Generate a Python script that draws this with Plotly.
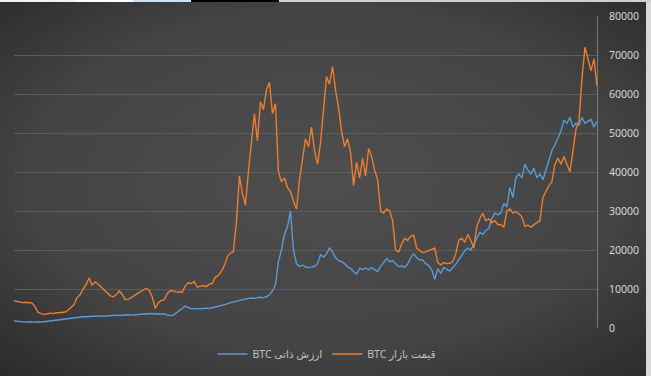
import base64
import pandas as pd
import plotly.graph_objects as go

# BTC market price (thousand USD)
market_price = [
    7.0, 6.8, 6.6, 6.5, 6.6, 6.5, 6.4, 5.5, 4.0, 3.7, 3.5, 3.6, 3.8, 3.7, 3.9, 3.9, 4.0, 4.1, 4.6, 5.4,
    6.0, 7.8, 8.5, 10.0, 11.2, 12.8, 11.0, 11.8, 11.3, 10.5, 9.8, 9.2, 8.3, 8.0, 8.5, 9.5, 8.6, 7.3, 7.4, 7.8,
    8.2, 8.8, 9.3, 9.8, 10.2, 9.6, 8.0, 5.0, 6.5, 7.0, 7.3, 8.8, 9.6, 9.5, 9.2, 9.3, 9.2, 10.8, 11.6, 11.4,
    11.9, 10.5, 10.8, 10.9, 10.6, 11.2, 11.5, 13.0, 13.5, 14.5, 16.0, 18.3, 19.2, 19.6, 27.0, 39.0, 34.5, 31.5, 40.0, 48.0,
    55.0, 48.0, 58.0, 56.0, 61.0, 63.0, 55.0, 57.5, 40.0, 37.5, 38.5, 36.0, 35.0, 32.5, 30.5, 38.0, 43.5, 48.5, 46.5, 51.5,
    45.5, 42.0, 47.5, 57.0, 64.5, 62.5, 67.0, 61.0, 56.5, 50.5, 46.5, 48.5, 45.0, 36.5, 42.5, 38.5, 43.5, 39.0, 46.0, 44.0,
    40.5, 38.0, 30.0, 29.5, 30.5, 30.0, 27.5, 20.0, 19.5, 21.5, 23.0, 22.5, 23.5, 23.8, 20.5, 19.8, 19.3, 19.5, 19.8, 20.0,
    20.5, 16.8, 16.2, 16.8, 16.5, 16.6, 17.0, 19.0, 22.5, 23.0, 22.0, 24.0, 22.5, 20.5, 26.0, 28.0, 29.5, 27.5, 28.0, 27.0,
    27.5, 26.5, 26.5, 25.8, 30.0, 30.5, 29.5, 29.8, 29.3, 28.5, 26.0, 26.4, 25.8, 26.5, 27.0, 27.5, 33.5, 35.0, 36.5, 37.5,
    42.0, 43.5, 42.0, 44.0, 42.0, 40.0, 45.5, 51.0, 53.0, 64.0, 72.0, 69.0, 66.0, 69.0, 62.0,
]

# BTC intrinsic value (thousand USD)
intrinsic_value = [
    1.8, 1.7, 1.7, 1.6, 1.5, 1.6, 1.5, 1.5, 1.6, 1.5, 1.6, 1.7, 1.8, 1.9, 2.0, 2.2, 2.3, 2.4, 2.5, 2.6,
    2.7, 2.8, 2.8, 2.9, 2.9, 3.0, 3.0, 3.0, 3.1, 3.1, 3.0, 3.1, 3.2, 3.2, 3.3, 3.2, 3.3, 3.3, 3.4, 3.3,
    3.4, 3.5, 3.5, 3.6, 3.6, 3.7, 3.7, 3.6, 3.6, 3.7, 3.6, 3.3, 3.2, 3.3, 3.8, 4.5, 5.0, 5.6, 5.2, 4.9,
    4.9, 4.9, 4.9, 5.0, 5.1, 5.0, 5.2, 5.4, 5.6, 5.8, 5.9, 6.2, 6.5, 6.7, 6.9, 7.1, 7.3, 7.4, 7.6, 7.7,
    7.6, 7.8, 7.9, 7.8, 8.0, 8.5, 9.5, 11.0, 17.0, 20.0, 24.0, 26.0, 30.0, 20.0, 16.5, 15.8, 16.1, 15.7, 15.5, 15.6,
    15.8, 16.5, 18.8, 18.2, 19.0, 20.5, 19.5, 18.0, 17.3, 17.0, 16.5, 15.7, 15.3, 14.5, 13.8, 15.3, 15.0, 15.4, 14.9, 15.5,
    15.0, 14.5, 15.8, 16.8, 17.8, 17.0, 17.3, 16.5, 15.7, 15.9, 15.6, 16.4, 18.0, 19.0, 18.0, 17.5, 17.4, 16.5, 16.0, 15.0,
    12.5, 15.2, 14.0, 15.5, 15.0, 14.6, 15.5, 16.3, 17.5, 18.8, 19.8, 20.5, 20.0, 21.5, 23.0, 24.5, 24.0, 25.0, 25.5, 28.0,
    29.5, 29.0, 29.5, 32.0, 31.0, 36.0, 33.5, 38.5, 39.5, 38.5, 42.0, 40.5, 39.5, 41.0, 38.5, 39.5, 38.0, 40.5, 43.0, 45.5,
    47.0, 49.0, 50.5, 53.3, 52.5, 54.0, 51.5, 52.5, 52.0, 54.0, 52.5, 53.0, 53.5, 51.5, 53.0,
]

start_date, end_date = "2018-08-01", "2024-05-10"
series_names = ["BTC ارزش ذاتی", "BTC قیمت بازار"]
y_ticks = [0, 10000, 20000, 30000, 40000, 50000, 60000, 70000, 80000]

market_dates = pd.date_range(start_date, end_date, periods=len(market_price))
intrinsic_dates = pd.date_range(start_date, end_date, periods=len(intrinsic_value))

W, H = 651, 376
L, R, T, B = 14, 54, 16, 48
pw, ph = W - L - R, H - T - B

fig = go.Figure()
fig.add_trace(go.Scatter(
    x=intrinsic_dates, y=[v * 1000 for v in intrinsic_value], name=series_names[0],
    mode="lines", line=dict(color="#5b9bd5", width=1.4)))
fig.add_trace(go.Scatter(
    x=market_dates, y=[v * 1000 for v in market_price], name=series_names[1],
    mode="lines", line=dict(color="#ed7d31", width=1.4)))

svg = (
    f'<svg xmlns="http://www.w3.org/2000/svg" width="{W}" height="{H}">'
    '<defs><radialGradient id="g" cx="50%" cy="48%" r="75%">'
    '<stop offset="0" stop-color="#4e4e4e"/><stop offset="0.6" stop-color="#444444"/>'
    '<stop offset="1" stop-color="#282828"/></radialGradient></defs>'
    f'<rect width="{W}" height="{H}" fill="url(#g)"/></svg>'
)
src = "data:image/svg+xml;base64," + base64.b64encode(svg.encode()).decode()

def px_x(p):
    return (p - L) / pw

def px_y(p):
    return (H - B - p) / ph

fig.add_layout_image(dict(
    source=src, xref="paper", yref="paper", x=px_x(0), y=px_y(0),
    sizex=W / pw, sizey=H / ph, sizing="stretch", layer="below",
    xanchor="left", yanchor="top"))

# screenshot edge strips
strips = [
    (0, 76, "#f2f2f2"), (76, 133, "#ffffff"), (133, 191, "#cfe0f5"),
    (191, 279, "#000000"), (279, 651, "#d0d0d0"),
]
for x0, x1, c in strips:
    fig.add_shape(type="rect", xref="paper", yref="paper",
                  x0=px_x(x0), x1=px_x(x1), y0=px_y(2), y1=px_y(0),
                  fillcolor=c, line_width=0, layer="above")
fig.add_shape(type="rect", xref="paper", yref="paper",
              x0=px_x(646), x1=px_x(651), y0=px_y(376), y1=px_y(2),
              fillcolor="#d9d9d9", line_width=0, layer="above")

fig.update_layout(
    width=W, height=H,
    margin=dict(l=L, r=R, t=T, b=B, autoexpand=False),
    paper_bgcolor="#3a3a3a",
    plot_bgcolor="rgba(0,0,0,0)",
    font=dict(family="Noto Sans, DejaVu Sans, sans-serif", color="#d0d0d0", size=10.5),
    showlegend=True,
    legend=dict(orientation="h", x=px_x(327), y=px_y(354), xanchor="center", yanchor="middle",
                font=dict(size=10.5, color="#c0c0c0"), bgcolor="rgba(0,0,0,0)",
                itemwidth=30, tracegroupgap=0),
    xaxis=dict(visible=False, range=[pd.Timestamp(start_date), pd.Timestamp(end_date)]),
    yaxis=dict(side="right", range=[0, 80000], tickvals=y_ticks, tickformat="d",
               showgrid=True, gridcolor="#5c5c5c", gridwidth=1,
               showline=True, linecolor="#7a7a7a", linewidth=1,
               zeroline=False, ticks="", ticklabelstandoff=9, automargin=False,
               tickfont=dict(size=10.5, color="#d6d6d6")),
)

fig.write_html("out.html", config={"displayModeBar": False},
               post_script="document.body.style.margin='0px';document.body.style.overflow='hidden';")
